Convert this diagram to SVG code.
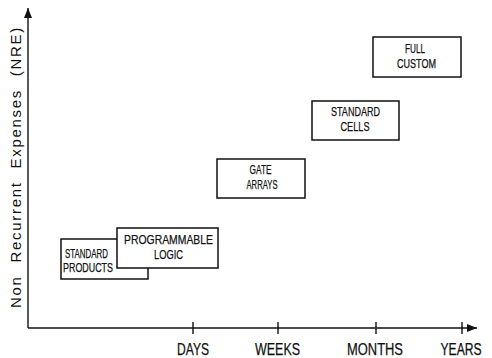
<svg xmlns="http://www.w3.org/2000/svg" width="492" height="358" viewBox="0 0 492 358">
<defs>
<style>
.box{fill:#fff;stroke:#111;stroke-width:1.5}
.axis{fill:none;stroke:#111;stroke-width:1.4}
.lbl{font-family:"Liberation Sans",Arial,sans-serif;fill:#111;text-anchor:middle;stroke:#111;stroke-width:0.25}
.ax{font-size:17px}
.sm{font-size:13px}
.md{font-size:13.5px}
.ylab{font-family:"Liberation Sans",Arial,sans-serif;font-size:15px;fill:#111;letter-spacing:1.7px;word-spacing:7px}
</style>
<marker id="arr" viewBox="0 0 10 8" refX="10" refY="4" markerWidth="10" markerHeight="8" markerUnits="userSpaceOnUse" orient="auto">
<path d="M0,0 L10,4 L0,8 Z" fill="#111"/>
</marker>
</defs>
<rect width="492" height="358" fill="#fff"/>
<g id="connectors">
<path class="axis" d="M28,328 V8" marker-end="url(#arr)"/>
<path class="axis" d="M28,328 H477" marker-end="url(#arr)"/>
<path class="axis" d="M193,322 V334 M278,322 V334 M376,322 V334 M462,322 V334"/>
</g>
<g id="axis-labels">
<text class="ylab" transform="translate(21,308) rotate(-90)">Non Recurrent Expenses (NRE)</text>
<text class="lbl ax" x="193" y="355" textLength="32" lengthAdjust="spacingAndGlyphs">DAYS</text>
<text class="lbl ax" x="277.5" y="355" textLength="45" lengthAdjust="spacingAndGlyphs">WEEKS</text>
<text class="lbl ax" x="375" y="355" textLength="56" lengthAdjust="spacingAndGlyphs">MONTHS</text>
<text class="lbl ax" x="461" y="355" textLength="41" lengthAdjust="spacingAndGlyphs" style="font-size:16px">YEARS</text>
</g>
<g id="standard-products">
<rect class="box" x="61" y="239" width="87" height="40"/>
<text class="lbl sm" x="86.5" y="258" textLength="43" lengthAdjust="spacingAndGlyphs">STANDARD</text>
<text class="lbl sm" x="88" y="271.5" textLength="50" lengthAdjust="spacingAndGlyphs">PRODUCTS</text>
</g>
<g id="programmable-logic">
<rect class="box" x="117" y="228" width="101" height="40"/>
<text class="lbl md" x="168.5" y="244" textLength="89" lengthAdjust="spacingAndGlyphs">PROGRAMMABLE</text>
<text class="lbl md" x="168.5" y="259" textLength="29" lengthAdjust="spacingAndGlyphs">LOGIC</text>
</g>
<g id="gate-arrays">
<rect class="box" x="217" y="159" width="88" height="39"/>
<text class="lbl sm" x="260.5" y="174" textLength="22" lengthAdjust="spacingAndGlyphs">GATE</text>
<text class="lbl sm" x="262" y="188.5" textLength="31" lengthAdjust="spacingAndGlyphs">ARRAYS</text>
</g>
<g id="standard-cells">
<rect class="box" x="312" y="101" width="87" height="39"/>
<text class="lbl sm" x="355.5" y="116" textLength="49" lengthAdjust="spacingAndGlyphs">STANDARD</text>
<text class="lbl sm" x="355" y="131" textLength="29" lengthAdjust="spacingAndGlyphs">CELLS</text>
</g>
<g id="full-custom">
<rect class="box" x="373" y="37" width="88" height="40"/>
<text class="lbl sm" x="415" y="52.5" textLength="20" lengthAdjust="spacingAndGlyphs">FULL</text>
<text class="lbl sm" x="416.5" y="67.5" textLength="39" lengthAdjust="spacingAndGlyphs">CUSTOM</text>
</g>
</svg>
